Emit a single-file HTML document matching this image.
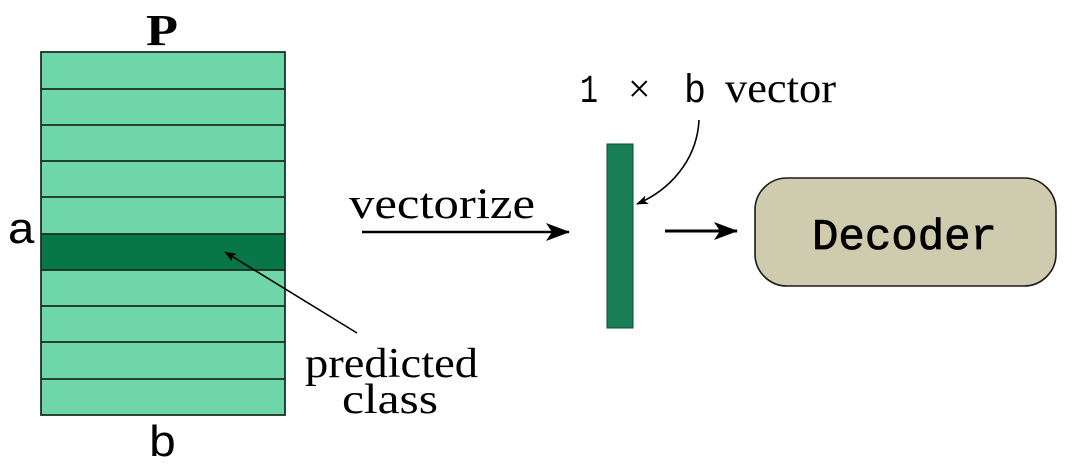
<!DOCTYPE html>
<html><head><meta charset="utf-8"><style>body{margin:0;background:#fff}svg{display:block}</style></head><body>
<svg width="1080" height="472" viewBox="0 0 1080 472" xmlns="http://www.w3.org/2000/svg">
<defs>
<marker id="ah" markerWidth="12" markerHeight="9" refX="11" refY="4.5" orient="auto" markerUnits="userSpaceOnUse"><path d="M0,0 L12,4.5 L0,9 L3,4.5 Z" fill="#000"/></marker>
<marker id="ahb" markerWidth="24" markerHeight="18" refX="23" refY="9" orient="auto" markerUnits="userSpaceOnUse"><path d="M0,0 L24,9 L0,18 L6,9 Z" fill="#000"/></marker>
</defs>
<rect x="41" y="52" width="244" height="363" fill="#6fd6aa" stroke="#1a2a22" stroke-width="1.5"/>
<rect x="41" y="234" width="244" height="36" fill="#077748"/>
<g stroke="#1a2a22" stroke-width="1.8">
<line x1="41" y1="89" x2="285" y2="89"/><line x1="41" y1="125" x2="285" y2="125"/>
<line x1="41" y1="161" x2="285" y2="161"/><line x1="41" y1="197" x2="285" y2="197"/>
<line x1="41" y1="234" x2="285" y2="234"/><line x1="41" y1="270" x2="285" y2="270"/>
<line x1="41" y1="306" x2="285" y2="306"/><line x1="41" y1="342" x2="285" y2="342"/>
<line x1="41" y1="379" x2="285" y2="379"/>
</g>
<rect x="41" y="52" width="244" height="363" fill="none" stroke="#1a2a22" stroke-width="1.5"/>
<text x="146" y="45" font-family="Liberation Serif, serif" font-weight="bold" font-size="44" textLength="32" lengthAdjust="spacingAndGlyphs">P</text>
<text x="7" y="243" font-family="Liberation Mono, monospace" font-size="44" textLength="29" lengthAdjust="spacingAndGlyphs">a</text>
<text x="148" y="456" font-family="Liberation Mono, monospace" font-size="44" textLength="29" lengthAdjust="spacingAndGlyphs">b</text>
<line x1="357" y1="333" x2="225" y2="252" stroke="#000" stroke-width="1.6" marker-end="url(#ah)"/>
<text x="305" y="377" font-family="Liberation Serif, serif" font-size="42" textLength="173" lengthAdjust="spacingAndGlyphs">predicted</text>
<text x="342" y="413" font-family="Liberation Serif, serif" font-size="42" textLength="96" lengthAdjust="spacingAndGlyphs">class</text>
<text x="349" y="218" font-family="Liberation Serif, serif" font-size="43" textLength="186" lengthAdjust="spacingAndGlyphs">vectorize</text>
<line x1="362" y1="232" x2="569" y2="232" stroke="#000" stroke-width="2.5" marker-end="url(#ahb)"/>
<rect x="607" y="144" width="26" height="184" fill="#177e56" stroke="#0d4a33" stroke-width="1"/>
<text x="580" y="102" font-family="Liberation Mono, monospace" font-size="40" textLength="18" lengthAdjust="spacingAndGlyphs">1</text>
<text x="628" y="102" font-family="Liberation Serif, serif" font-size="40">×</text>
<text x="684" y="102" font-family="Liberation Mono, monospace" font-size="40" textLength="22" lengthAdjust="spacingAndGlyphs">b</text>
<text x="725" y="102" font-family="Liberation Serif, serif" font-size="42" textLength="111" lengthAdjust="spacingAndGlyphs">vector</text>
<path d="M699,120 C697,160 670,190 637,204" fill="none" stroke="#000" stroke-width="1.6" marker-end="url(#ah)"/>
<line x1="665" y1="231" x2="737" y2="231" stroke="#000" stroke-width="3" marker-end="url(#ahb)"/>
<rect x="755" y="178" width="301" height="108" rx="32" fill="#cfcbae" stroke="#1a1a1a" stroke-width="1.6"/>
<text x="812" y="249" font-family="Liberation Mono, monospace" font-size="44" stroke="#000" stroke-width="0.8" textLength="185" lengthAdjust="spacingAndGlyphs">Decoder</text>
</svg>
</body></html>
